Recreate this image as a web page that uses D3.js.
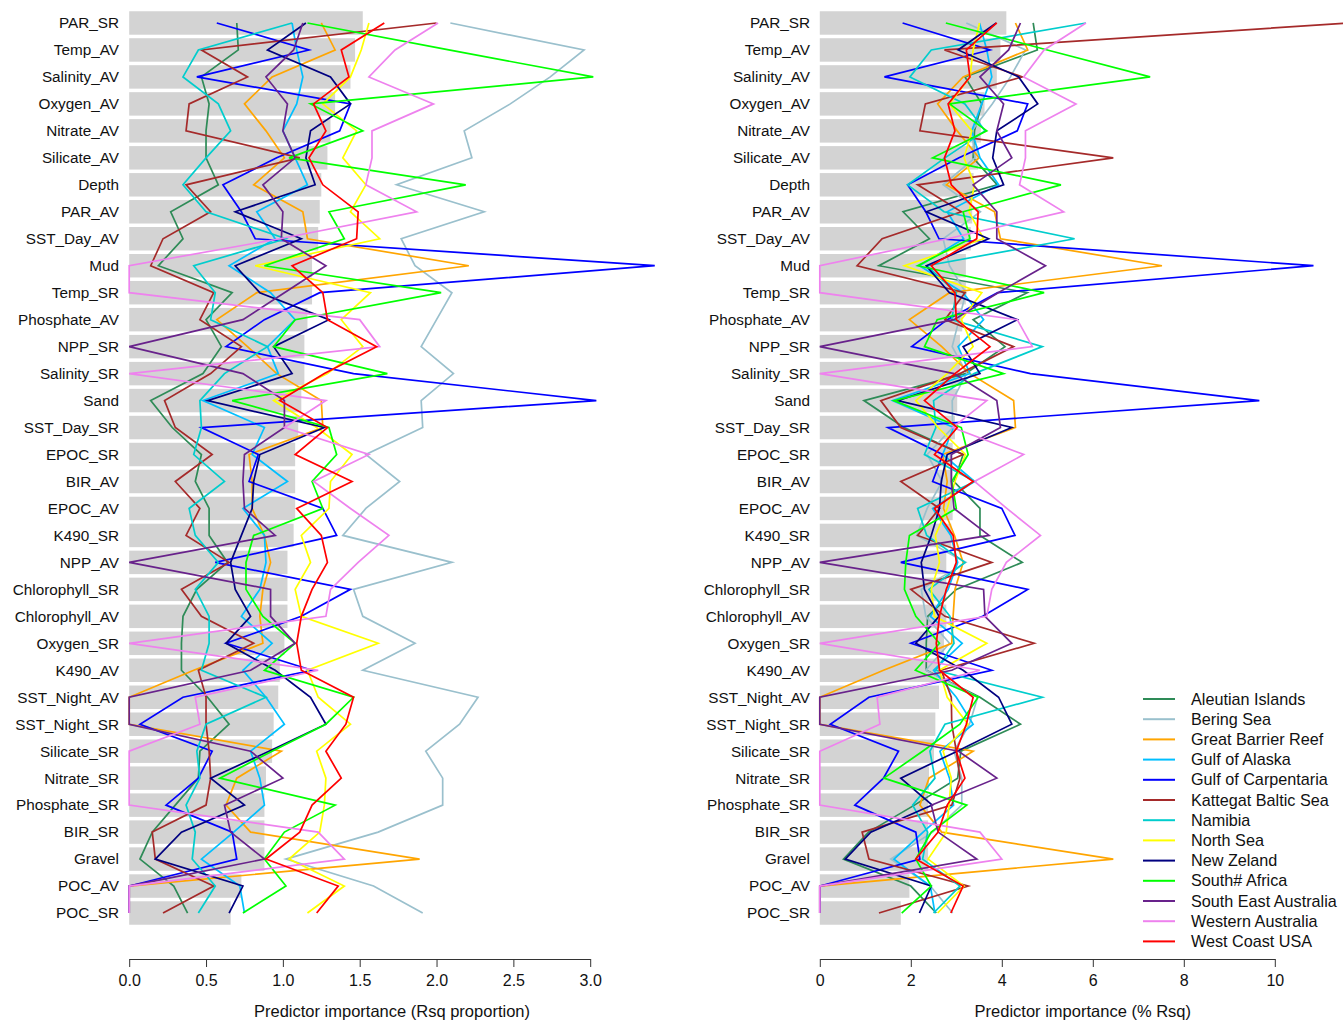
<!DOCTYPE html>
<html>
<head>
<meta charset="utf-8">
<script src="https://cdn.jsdelivr.net/npm/d3@7"></script>
<style>
  body { margin: 0; background: #fff; }
  text { font-family: "Liberation Sans", Arial, sans-serif; }
</style>
</head>
<body>
<div id="chart-area"></div>
<script>
// Predictors, top to bottom
const variables = ["PAR_SR", "Temp_AV", "Salinity_AV", "Oxygen_AV", "Nitrate_AV", "Silicate_AV", "Depth",
  "PAR_AV", "SST_Day_AV", "Mud", "Temp_SR", "Phosphate_AV", "NPP_SR", "Salinity_SR", "Sand", "SST_Day_SR",
  "EPOC_SR", "BIR_AV", "EPOC_AV", "K490_SR", "NPP_AV", "Chlorophyll_SR", "Chlorophyll_AV", "Oxygen_SR",
  "K490_AV", "SST_Night_AV", "SST_Night_SR", "Silicate_SR", "Nitrate_SR", "Phosphate_SR", "BIR_SR",
  "Gravel", "POC_AV", "POC_SR"]

const regionNames = ["Aleutian Islands", "Bering Sea", "Great Barrier Reef", "Gulf of Alaska", "Gulf of Carpentaria",
  "Kattegat Baltic Sea", "Namibia", "North Sea", "New Zeland", "South# Africa", "South East Australia",
  "Western Australia", "West Coast USA"]
const regionColors = ["#2E8B57", "#9AC0CD", "#FFA500", "#00BFFF", "#0000FF", "#A52A2A", "#00CDCD",
  "#FFFF00", "#000080", "#00FF00", "#68228B", "#EE82EE", "#FF0000"]

// grey bars
const meanProp = [1.52, 1.47, 1.44, 1.34, 1.31, 1.29, 1.25, 1.24, 1.23, 1.19, 1.19, 1.16, 1.14, 1.14, 1.12, 1.10, 1.08,
  1.08, 1.08, 1.07, 1.03, 1.03, 1.03, 1.01, 0.98, 0.97, 0.94, 0.93, 0.89, 0.88, 0.88, 0.88, 0.73, 0.66]
const meanPct = [4.10, 3.97, 3.89, 3.62, 3.54, 3.48, 3.38, 3.35, 3.32, 3.21, 3.21, 3.13, 3.08, 3.08, 3.02, 2.97, 2.92,
  2.92, 2.92, 2.89, 2.78, 2.78, 2.78, 2.73, 2.65, 2.62, 2.54, 2.51, 2.40, 2.38, 2.38, 2.38, 1.97, 1.78]

// Rsq proportion per region (left panel)
const aleutianProp = [0.70, 0.71, 0.47, 0.52, 0.50, 0.50, 0.58, 0.27, 0.35, 0.19, 0.67, 0.50, 0.60, 0.48, 0.14, 0.28, 0.47, 0.43, 0.52, 0.52, 0.64, 0.44, 0.35, 0.34, 0.34, 0.51, 0.65, 0.46, 0.45, 0.30, 0.15, 0.07, 0.29, 0.38]
const beringProp = [2.09, 2.96, 2.74, 2.48, 2.18, 2.23, 1.74, 2.31, 1.77, 1.86, 2.10, 2.00, 1.90, 2.11, 1.90, 1.91, 1.54, 1.76, 1.54, 1.39, 2.10, 1.46, 1.52, 1.86, 1.52, 2.27, 2.15, 1.93, 2.04, 2.04, 1.62, 1.02, 1.59, 1.91]
const gbrProp = [1.25, 1.34, 0.93, 0.75, 0.89, 1.01, 0.81, 1.13, 1.16, 2.21, 0.83, 0.57, 0.77, 0.96, 1.25, 1.26, 0.78, 0.80, 0.80, 0.88, 0.92, 0.87, 0.85, 0.87, 0.42, 0, 0, 0.99, 0.70, 0.63, 0.79, 1.89, 0, 0]
const alaskaProp = [1.06, 1.09, 1.13, 1.09, 1.00, 1.08, 1.16, 0.83, 0.95, 0.65, 0.92, 1.08, 0.90, 0.97, 0.48, 0.88, 0.80, 1.03, 0.74, 0.88, 0.89, 0.85, 0.73, 0.93, 0.74, 0.89, 1.01, 0.79, 0.85, 0.88, 0.68, 0.47, 0.72, 0.75]
const carpentariaProp = [0.57, 1.17, 0.44, 1.44, 1.37, 0.96, 0.61, 0.73, 0.82, 3.42, 1.24, 0.88, 0.63, 1.46, 3.04, 0.47, 0.84, 0.78, 1.26, 1.35, 0.56, 1.44, 1.12, 0.63, 1.19, 0.35, 0.07, 0.54, 0.45, 0.24, 0.67, 0.70, 0, 0]
const kattegatProp = [2.00, 0.47, 0.77, 0.39, 0.37, 1.11, 0.37, 0.53, 0.22, 0.14, 0.55, 0.46, 0.73, 0.53, 0.23, 0.30, 0.54, 0.30, 0.46, 0.37, 0.65, 0.34, 0.47, 0.81, 0.45, 0.50, 0.50, 0.52, 0.53, 0.50, 0.15, 0.17, 0.55, 0.22]
const namibiaProp = [1.06, 0.45, 0.35, 0.58, 0.66, 0.50, 0.35, 0.50, 1.02, 0.42, 0.56, 0.53, 0.90, 0.62, 0.46, 0.47, 0.42, 0.62, 0.39, 0.43, 0.58, 0.43, 0.52, 0.52, 0.47, 0.89, 0.50, 0.44, 0.46, 0.37, 0.43, 0.41, 0.56, 0.45]
const northSeaProp = [1.56, 1.51, 1.44, 1.26, 1.48, 1.39, 1.54, 1.44, 1.63, 0.82, 1.57, 1.38, 1.52, 1.29, 0.94, 1.22, 1.45, 1.31, 1.30, 1.12, 1.18, 1.08, 1.12, 1.62, 1.16, 1.23, 1.44, 1.22, 1.28, 1.27, 1.24, 1.04, 1.40, 1.16]
const newZelandProp = [1.15, 0.90, 1.31, 1.44, 1.18, 1.15, 1.21, 0.69, 1.12, 0.69, 0.85, 1.30, 0.94, 1.06, 0.51, 1.27, 0.85, 0.81, 0.80, 0.73, 0.66, 0.69, 0.79, 0.63, 0.95, 1.18, 1.28, 0.91, 0.53, 0.75, 0.34, 0.17, 0.74, 0.65]
const southAfricaProp = [1.16, 2.08, 3.02, 1.18, 1.52, 1.04, 2.19, 1.30, 1.40, 0.88, 2.03, 1.08, 0.94, 1.68, 0.67, 1.30, 1.35, 1.19, 1.26, 0.81, 0.76, 0.76, 0.87, 1.08, 0.88, 1.46, 1.28, 0.93, 0.59, 1.34, 1.01, 0.88, 1.02, 0.74]
const seAustraliaProp = [1.13, 1.07, 0.89, 1.03, 1.00, 1.08, 0.87, 1.00, 0.99, 1.28, 1.01, 0.74, 0, 0.74, 1.01, 1.01, 0.75, 0.74, 0.75, 0.95, 0, 0.92, 0.92, 1.08, 0.79, 0, 0, 0.79, 1.00, 0.62, 0.66, 0.88, 0, 0]
const westernAustraliaProp = [2.01, 1.73, 1.56, 1.98, 1.58, 1.58, 1.54, 1.87, 0.98, 0, 0, 1.50, 1.63, 0, 1.28, 1.01, 1.56, 1.20, 1.44, 1.69, 1.49, 1.31, 1.28, 0, 1.23, 0.43, 0.46, 0, 0, 0, 1.23, 1.40, 0, 0]
const westCoastProp = [1.66, 1.38, 1.43, 1.20, 1.28, 1.17, 1.26, 1.49, 1.48, 1.06, 1.26, 1.29, 1.61, 1.27, 0.98, 1.29, 1.08, 1.45, 1.09, 1.25, 1.29, 1.19, 1.12, 1.09, 1.12, 1.46, 1.41, 1.28, 1.38, 1.19, 1.11, 0.89, 1.36, 1.22]

// % Rsq per region (right panel)
const aleutianPct = [4.69, 4.78, 3.19, 3.56, 3.40, 3.37, 3.90, 1.83, 2.41, 1.30, 4.56, 3.37, 4.07, 3.20, 0.97, 1.85, 3.15, 2.95, 3.52, 3.52, 4.45, 3.00, 2.37, 2.34, 2.34, 3.52, 4.41, 3.10, 3.03, 2.08, 1.07, 0.52, 2.00, 2.56]
const beringPct = [3.22, 4.52, 4.19, 3.79, 3.34, 3.41, 2.71, 3.53, 2.71, 2.85, 3.21, 3.06, 2.91, 3.23, 2.91, 2.92, 2.36, 2.69, 2.36, 2.13, 3.21, 2.23, 2.33, 2.85, 2.33, 3.47, 3.29, 2.95, 3.12, 3.12, 2.48, 1.56, 2.43, 2.92]
const gbrPct = [4.30, 4.57, 3.15, 2.59, 3.02, 3.50, 2.78, 3.84, 3.97, 7.52, 2.85, 1.97, 2.68, 3.30, 4.26, 4.30, 2.70, 2.80, 2.72, 2.96, 3.15, 2.97, 2.93, 2.90, 1.40, 0, 0, 3.37, 2.40, 2.20, 2.68, 6.45, 0, 0]
const alaskaPct = [3.51, 3.67, 3.78, 3.56, 3.34, 3.52, 3.93, 2.80, 3.16, 2.19, 3.15, 3.60, 3.04, 3.30, 1.60, 2.94, 2.70, 3.40, 2.48, 2.88, 3.03, 2.82, 2.43, 3.13, 2.50, 3.00, 3.37, 2.64, 2.85, 2.94, 2.27, 1.63, 2.43, 2.53]
const carpentariaPct = [1.82, 3.74, 1.42, 4.57, 4.34, 3.06, 1.93, 2.33, 2.62, 10.85, 3.91, 2.80, 2.02, 4.63, 9.66, 1.50, 2.70, 2.48, 4.00, 4.29, 1.78, 4.57, 3.58, 2.00, 3.78, 1.08, 0.23, 1.73, 1.40, 0.77, 2.11, 2.20, 0, 0]
const kattegatPct = [11.6, 2.74, 4.45, 2.32, 2.20, 6.45, 2.15, 3.11, 1.37, 0.82, 3.19, 2.75, 4.26, 3.08, 1.34, 1.78, 3.15, 1.78, 2.63, 2.15, 3.78, 2.00, 2.75, 4.71, 2.67, 2.89, 2.90, 3.00, 3.08, 2.90, 0.93, 1.08, 3.26, 1.30]
const namibiaPct = [5.85, 2.45, 1.98, 3.19, 3.63, 2.75, 1.93, 2.73, 5.60, 2.35, 3.00, 2.90, 4.89, 3.39, 2.50, 2.55, 2.30, 3.41, 2.15, 2.35, 3.19, 2.40, 2.86, 2.95, 2.55, 4.89, 2.75, 2.42, 2.53, 2.04, 2.37, 2.26, 3.08, 2.50]
const northSeaPct = [3.51, 3.37, 3.30, 2.85, 3.34, 3.17, 3.40, 3.28, 3.60, 1.86, 3.56, 3.11, 3.37, 2.80, 2.11, 2.60, 3.20, 2.97, 2.80, 2.54, 2.63, 2.45, 2.52, 3.67, 2.63, 2.80, 3.26, 2.71, 2.89, 2.84, 2.78, 2.38, 3.17, 2.59]
const newZelandPct = [3.88, 3.04, 4.37, 4.79, 3.89, 3.80, 4.04, 2.34, 3.71, 2.34, 2.85, 4.34, 3.15, 3.52, 1.71, 4.22, 2.80, 2.67, 2.63, 2.45, 2.23, 2.30, 2.62, 2.11, 3.15, 3.93, 4.22, 3.02, 1.78, 2.47, 1.12, 0.56, 2.45, 2.19]
const southAfricaPct = [2.77, 5.00, 7.26, 2.85, 3.67, 2.48, 5.30, 3.15, 3.30, 2.15, 4.93, 2.58, 2.30, 4.04, 1.63, 3.11, 3.26, 2.90, 3.00, 1.97, 1.89, 1.86, 2.11, 2.63, 2.10, 3.48, 3.08, 2.26, 1.41, 3.23, 2.45, 2.11, 2.45, 1.80]
const seAustraliaPct = [4.41, 4.15, 3.52, 4.04, 3.89, 4.22, 3.37, 3.89, 3.89, 4.96, 3.92, 2.95, 0, 2.95, 3.89, 3.97, 2.89, 2.89, 2.95, 3.72, 0, 3.60, 3.63, 4.22, 2.90, 0, 0, 3.05, 3.89, 2.45, 2.60, 3.45, 0, 0]
const westernAustraliaPct = [5.85, 4.93, 4.48, 5.63, 4.52, 4.52, 4.39, 5.36, 2.81, 0, 0, 4.34, 4.67, 0, 3.67, 2.92, 4.48, 3.40, 4.11, 4.85, 4.10, 3.78, 3.67, 0, 3.52, 1.26, 1.32, 0, 0, 0, 3.52, 4.00, 0, 0]
const westCoastPct = [3.89, 3.22, 3.30, 2.82, 2.97, 2.74, 2.89, 3.48, 3.45, 2.45, 2.97, 3.00, 3.74, 2.97, 2.30, 3.02, 2.52, 3.37, 2.52, 2.93, 3.00, 2.78, 2.63, 2.56, 2.63, 3.37, 3.22, 3.00, 3.19, 2.80, 2.60, 2.11, 3.15, 2.88]

const propSeries = [aleutianProp, beringProp, gbrProp, alaskaProp, carpentariaProp, kattegatProp, namibiaProp,
  northSeaProp, newZelandProp, southAfricaProp, seAustraliaProp, westernAustraliaProp, westCoastProp]
const pctSeries = [aleutianPct, beringPct, gbrPct, alaskaPct, carpentariaPct, kattegatPct, namibiaPct,
  northSeaPct, newZelandPct, southAfricaPct, seAustraliaPct, westernAustraliaPct, westCoastPct]

propSeries.concat(pctSeries, [meanProp, meanPct]).forEach((s, i) => {
  if (s.length !== variables.length) throw new Error("series " + i + " has " + s.length)
})

// Layout
const WIDTH = 1343
const HEIGHT = 1021
const AXIS_Y = 959
const TITLE_Y = 1017

const svg = d3.select("#chart-area").append("svg")
  .attr("width", WIDTH)
  .attr("height", HEIGHT)

const yScale = d3.scaleBand()
  .domain(variables)
  .range([9.5, 926.5])
  .paddingInner(0.13)
  .paddingOuter(0.065)
const rowY = v => yScale(v) + yScale.bandwidth() / 2

const panels = [
  {
    x: d3.scaleLinear().domain([0, 3]).range([129.2, 590.2]),
    bars: meanProp, series: propSeries,
    ticks: [0, 0.5, 1, 1.5, 2, 2.5, 3], fmt: d3.format(".1f"),
    title: "Predictor importance (Rsq proportion)", titleAt: 1.71, labelX: 119
  },
  {
    x: d3.scaleLinear().domain([0, 10]).range([819.8, 1274.8]),
    bars: meanPct, series: pctSeries,
    ticks: [0, 2, 4, 6, 8, 10], fmt: d3.format("d"),
    title: "Predictor importance (% Rsq)", titleAt: 5.78, labelX: 810
  }
]

panels.forEach(drawPanel)
drawLegend()

function drawPanel(p) {
  const g = svg.append("g")

  // bars
  g.selectAll(".bar")
    .data(p.bars)
    .join("rect")
    .attr("class", "bar")
    .attr("x", p.x(0))
    .attr("y", (d, i) => yScale(variables[i]))
    .attr("width", d => p.x(d) - p.x(0))
    .attr("height", yScale.bandwidth())
    .attr("fill", "#D3D3D3")

  // region lines
  const line = d3.line()
    .x(d => p.x(d))
    .y((d, i) => rowY(variables[i]))

  g.selectAll(".region")
    .data(p.series)
    .join("path")
    .attr("class", "region")
    .attr("d", line)
    .attr("fill", "none")
    .attr("stroke", (d, i) => regionColors[i])
    .attr("stroke-width", 1.7)
    .attr("stroke-linejoin", "miter")

  // predictor labels
  g.selectAll(".vlabel")
    .data(variables)
    .join("text")
    .attr("class", "vlabel")
    .attr("x", p.labelX)
    .attr("y", d => rowY(d))
    .attr("dy", "0.35em")
    .attr("text-anchor", "end")
    .style("font-size", "15.3px")
    .style("fill", "#111")
    .text(d => d)

  // x axis
  const ax = g.append("g")
    .attr("transform", `translate(0,${AXIS_Y})`)
    .call(d3.axisBottom(p.x).tickValues(p.ticks).tickFormat(p.fmt)
      .tickSize(8).tickSizeOuter(0).tickPadding(8))
  ax.select(".domain").attr("stroke", "#333")
  ax.selectAll(".tick line").attr("stroke", "#333")
  ax.selectAll(".tick text")
    .style("font-size", "16px")
    .style("font-family", "'Liberation Sans', Arial, sans-serif")
    .attr("fill", "#111")

  g.append("text")
    .attr("x", p.x(p.titleAt))
    .attr("y", TITLE_Y)
    .attr("text-anchor", "middle")
    .style("font-size", "16.5px")
    .style("fill", "#111")
    .text(p.title)
}

function drawLegend() {
  const lg = svg.append("g").attr("transform", "translate(1143,699)")
  const item = lg.selectAll(".item")
    .data(regionNames)
    .join("g")
    .attr("class", "item")
    .attr("transform", (d, i) => `translate(0,${i * 20.2})`)
  item.append("line")
    .attr("x1", 0).attr("x2", 32)
    .attr("stroke", (d, i) => regionColors[i])
    .attr("stroke-width", 2)
  item.append("text")
    .attr("x", 48)
    .attr("dy", "0.35em")
    .style("font-size", "16.2px")
    .style("fill", "#111")
    .text(d => d)
}
</script>
</body>
</html>
